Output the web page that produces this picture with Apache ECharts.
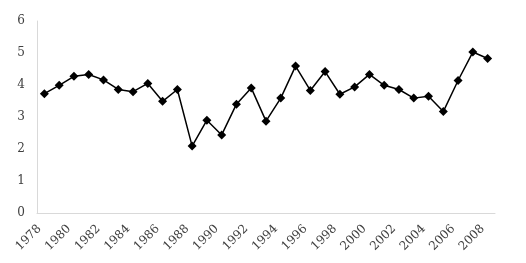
<!DOCTYPE html>
<html><head><meta charset="utf-8">
<script src="https://cdn.jsdelivr.net/npm/echarts@6/dist/echarts.min.js"></script>
<style>html,body{margin:0;padding:0;background:#fff}#c{width:526px;height:263px}</style>
</head><body><div id="c"></div>
<script>
var years = [];
for (var y = 1978; y <= 2008; y++) years.push(String(y));
var values = [3.73,3.99,4.27,4.33,4.16,3.86,3.79,4.05,3.49,3.86,
              2.09,2.90,2.44,3.40,3.91,2.87,3.59,4.59,3.83,4.42,
              3.71,3.94,4.33,3.99,3.86,3.59,3.65,3.17,4.14,5.03,4.83];
var yTicks = [0,1,2,3,4,5,6];
var chart = echarts.init(document.getElementById('c'), null, {renderer:'canvas'});
chart.setOption({
  animation:false,
  grid:{left:37,right:31,top:21,bottom:50},
  xAxis:{type:'category',data:years,boundaryGap:true,
    axisLine:{lineStyle:{color:'#d9d9d9'}},
    axisTick:{interval:0,length:3,lineStyle:{color:'#d9d9d9'}},
    axisLabel:{interval:1,rotate:45,margin:9,padding:[0,7,0,0],color:'#404040',fontFamily:'DejaVu Serif',fontSize:12}},
  yAxis:{type:'value',min:yTicks[0],max:yTicks[yTicks.length-1],interval:1,
    axisLine:{show:true,lineStyle:{color:'#d9d9d9'}},
    axisTick:{show:false},splitLine:{show:false},
    axisLabel:{margin:12,color:'#404040',fontFamily:'DejaVu Serif',fontSize:12}},
  series:[{type:'line',data:values,symbol:'diamond',symbolSize:9,
    lineStyle:{color:'#000',width:1.5},itemStyle:{color:'#000'}}]
});
</script></body></html>
